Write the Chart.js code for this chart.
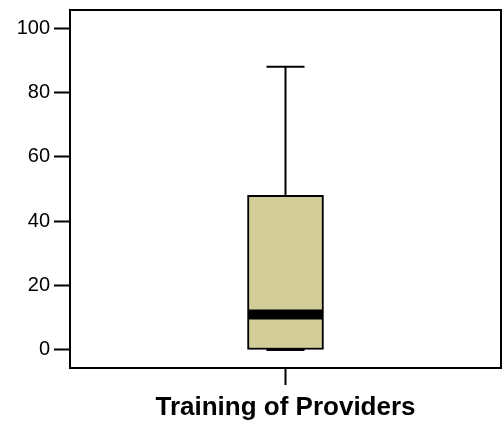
<!DOCTYPE html>
<html>
<head>
<meta charset="utf-8">
<script src="https://cdn.jsdelivr.net/npm/chart.js@4.4.1/dist/chart.umd.min.js"></script>
<style>
  html, body { margin: 0; padding: 0; background: #fff; }
  #wrap { width: 502px; height: 421px; }
</style>
</head>
<body>
<div id="wrap"><canvas id="boxChart" width="502" height="421"></canvas></div>
<script>
// box plot summary
const categories = ['Training of Providers'];
const minValues = [0];
const q1Values = [0];
const medianValues = [11];
const q3Values = [48];
const maxValues = [88];
const tickValues = [0, 20, 40, 60, 80, 100];

// whiskers, median band and the frame round the plot
const boxExtras = {
    id: 'boxExtras',
    afterDatasetsDraw(chart) {
        const ctx = chart.ctx;
        const y = chart.scales.y;
        const meta = chart.getDatasetMeta(0);
        ctx.save();
        ctx.strokeStyle = '#000';
        meta.data.forEach((bar, i) => {
            const x = bar.x;
            const half = bar.width / 2;
            const cap = bar.width * 0.25;
            // upper whisker
            ctx.lineWidth = 2;
            ctx.beginPath();
            ctx.moveTo(x, y.getPixelForValue(q3Values[i]));
            ctx.lineTo(x, y.getPixelForValue(maxValues[i]));
            ctx.moveTo(x - cap, y.getPixelForValue(maxValues[i]));
            ctx.lineTo(x + cap, y.getPixelForValue(maxValues[i]));
            // lower whisker
            ctx.moveTo(x, y.getPixelForValue(q1Values[i]));
            ctx.lineTo(x, y.getPixelForValue(minValues[i]));
            ctx.moveTo(x - cap, y.getPixelForValue(minValues[i]));
            ctx.lineTo(x + cap, y.getPixelForValue(minValues[i]));
            ctx.stroke();
            // median
            ctx.lineWidth = 10;
            ctx.beginPath();
            ctx.moveTo(x - half + 1, y.getPixelForValue(medianValues[i]));
            ctx.lineTo(x + half - 1, y.getPixelForValue(medianValues[i]));
            ctx.stroke();
        });
        const a = chart.chartArea;
        ctx.lineWidth = 2;
        ctx.strokeRect(a.left, a.top, a.right - a.left, a.bottom - a.top);
        ctx.restore();
    }
};

new Chart(document.getElementById('boxChart'), {
    type: 'bar',
    data: {
        labels: categories,
        datasets: [{
            data: categories.map((c, i) => [q1Values[i], q3Values[i]]),
            backgroundColor: '#D3CE99',
            borderColor: '#000',
            borderWidth: 2,
            borderSkipped: false,
            barThickness: 76
        }]
    },
    options: {
        responsive: false,
        animation: false,
        layout: { padding: { left: 0, top: 10, right: 1, bottom: 0 } },
        plugins: {
            legend: { display: false },
            tooltip: { enabled: false }
        },
        scales: {
            x: {
                afterFit(scale) {
                    scale.height = 53;
                    scale.paddingLeft = 0;
                    scale.paddingRight = 0;
                },
                grid: {
                    offset: false,
                    drawOnChartArea: false,
                    drawTicks: true,
                    tickLength: 17,
                    tickWidth: 2,
                    tickColor: '#000'
                },
                border: { display: true, color: '#000', width: 2 },
                ticks: {
                    color: '#000',
                    padding: 7,
                    font: { family: 'Liberation Sans, Arial, sans-serif', size: 26, weight: 'bold' }
                }
            },
            y: {
                min: -5.6,
                max: 105.6,
                afterBuildTicks(scale) {
                    scale.ticks = tickValues.map(v => ({ value: v }));
                },
                afterFit(scale) {
                    scale.width = 70;
                    scale.paddingTop = 0;
                    scale.paddingBottom = 0;
                },
                grid: {
                    drawOnChartArea: false,
                    drawTicks: true,
                    tickLength: 16,
                    tickWidth: 2,
                    tickColor: '#000'
                },
                border: { display: true, color: '#000', width: 2 },
                ticks: {
                    color: '#000',
                    padding: 4,
                    font: { family: 'Liberation Sans, Arial, sans-serif', size: 20 }
                }
            }
        }
    },
    plugins: [boxExtras]
});
</script>
</body>
</html>
